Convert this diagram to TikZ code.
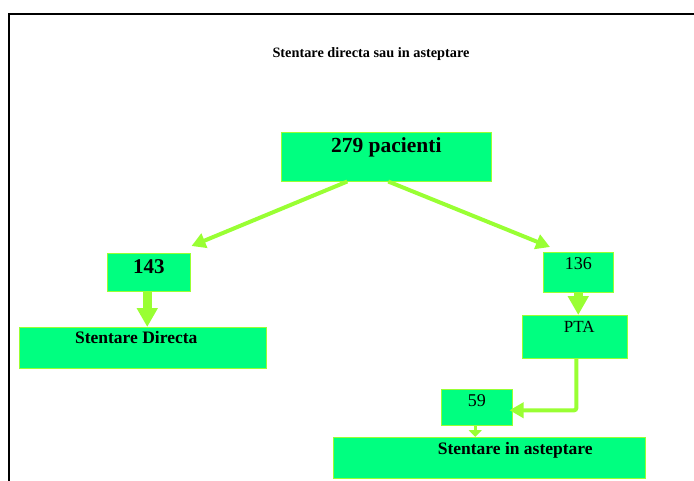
\documentclass[tikz,border=0pt]{standalone}
\usepackage{fontspec}
\setmainfont{Liberation Serif}
\usetikzlibrary{arrows.meta,positioning}
\definecolor{boxgreen}{RGB}{0,255,128}
\definecolor{arrowgreen}{RGB}{153,255,51}

\begin{document}
\begin{tikzpicture}[
          x=1pt, y=-1pt,
          every node/.style={inner sep=0pt},
          box/.style={rectangle, fill=boxgreen, draw=arrowgreen, line width=0.5pt, anchor=north west},
          link/.style={draw=arrowgreen, line width=4pt, -{Triangle[length=14pt,width=15pt]}},
          fatlink/.style={draw=arrowgreen, line width=9pt, -{Triangle[length=19pt,width=20pt]}},
          smalllink/.style={draw=arrowgreen, line width=3.5pt, -{Triangle[length=7pt,width=13pt]}}
        ]
        \useasboundingbox (0,0) rectangle (694,480);

        % Frame and title
        \draw[line width=2.5pt] (9,482) -- (9,14) -- (696,14);
        \node[anchor=base, font=\fontsize{14.3}{16}\selectfont\bfseries] (title) at (371,57) {Stentare directa sau in asteptare};

        % Boxes
        \node[box, minimum width=210pt, text height=20pt, text depth=29pt, font=\fontsize{21.5}{24}\selectfont\bfseries] (pac) at (281,132) {279 pacienti};
        \node[box, minimum width=83pt, text height=20pt, text depth=18pt, font=\fontsize{21}{23}\selectfont\bfseries] (a143) at (107,253) {143};
        \node[box, minimum width=247pt, text height=16pt, text depth=25pt, font=\fontsize{17.5}{19}\selectfont\bfseries] (sd) at (19,327) {Stentare Directa\hspace*{13pt}};
        \node[box, minimum width=70pt, text height=17pt, text depth=23pt, font=\fontsize{18}{20}\selectfont] (b136) at (543,252) {136};
        \node[box, minimum width=105pt, text height=17pt, text depth=26pt, font=\fontsize{17}{19}\selectfont] (pta) at (522,315) {\hspace*{9pt}PTA};
        \node[box, minimum width=71pt, text height=17pt, text depth=19pt, font=\fontsize{18}{20}\selectfont] (b59) at (441,389) {59};
        \node[box, minimum width=312pt, text height=17pt, text depth=24pt, font=\fontsize{17.5}{19}\selectfont\bfseries] (sa) at (333,437) {\hspace*{52pt}Stentare in asteptare};

        % Arrows
        \coordinate (tipl) at ([shift={(1pt,7pt)}]a143.north east);
        \coordinate (tipr) at ([shift={(7pt,5pt)}]b136.north west);
        \draw[link] ([xshift=-39pt]pac.south) -- (tipl);
        \draw[link] ([xshift=2pt]pac.south) -- (tipr);
        \draw[fatlink] ([xshift=-1.5pt]a143.south) -- ([xshift=-1.5pt]a143.south |- sd.north);
        \draw[fatlink] (b136.south) -- (b136.south |- pta.north);
        \draw[link, rounded corners=2pt, shorten >=-3pt] ([xshift=1.5pt]pta.south) |- ([yshift=-3pt]b59.east);
        \draw[smalllink] ([xshift=-1.5pt]b59.south) -- ([xshift=-1.5pt]b59.south |- sa.north);

      \end{tikzpicture}
\end{document}
